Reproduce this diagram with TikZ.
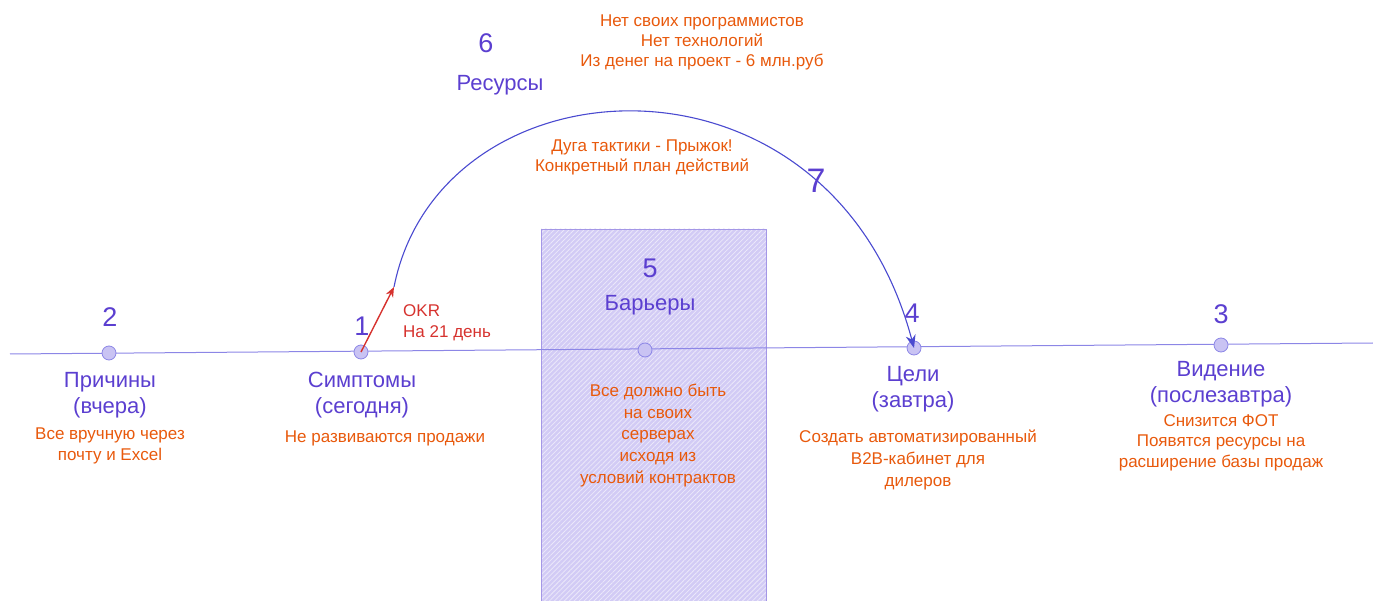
\documentclass[tikz,border=0pt]{standalone}
\usepackage{fontspec}
\setmainfont{Liberation Sans}
\usetikzlibrary{patterns.meta,arrows.meta}
\definecolor{vio}{HTML}{5B3FD0}
\definecolor{org}{HTML}{E8590C}
\definecolor{redd}{HTML}{D6322E}
\definecolor{linec}{HTML}{8C86E6}
\definecolor{arcc}{HTML}{4A4AD0}
\definecolor{dotfill}{HTML}{C9C3F3}
\definecolor{boxfill}{HTML}{D2CBF5}
\definecolor{hatch}{HTML}{A497E6}
\tikzset{
  dot/.style={circle, draw=linec, fill=dotfill, minimum size=14pt, inner sep=0pt, line width=0.8pt},
  ttl/.style={text=vio, font=\fontsize{22}{26}\selectfont, align=center, inner sep=0pt},
  num/.style={text=vio, font=\fontsize{27}{30}\selectfont, inner sep=0pt},
  note/.style={text=org, font=\fontsize{17}{21}\selectfont, align=center, inner sep=0pt},
}
\begin{document}
\begin{tikzpicture}[x=1pt,y=-1pt]
\useasboundingbox (0,0) rectangle (1373,601);
% barrier box
\node (bar) [draw=hatch, line width=0.8pt, preaction={fill=boxfill},
  pattern={Lines[angle=45,distance=3.5pt,line width=0.8pt]}, pattern color=white!55!boxfill,
  minimum width=225pt, minimum height=380pt, inner sep=0pt] at (653.5,419) {};
% main line
\coordinate (L) at (10,354);
\coordinate (R) at (1373,343);
\draw[linec, line width=1pt] (L) -- (R);
% dots
\node (c2) [dot] at (109,353) {};
\node (c1) [dot] at (361,352) {};
\node (c5) [dot] at (645,350) {};
\node (c4) [dot] at (914,348) {};
\node (c3) [dot] at (1221,345) {};
% arc
\coordinate (j) at (394,287);
\draw[arcc, line width=1.1pt, -{Stealth[length=13pt,width=10pt]}] (j) .. controls (440,55) and (830,32) .. (c4.center);
\draw[redd, line width=1.4pt, -{Stealth[length=10pt,width=8pt]}] (c1.center) -- (j);
% numbers
\node (n2) [num] at (110,317) {2};
\node (n1) [num] at (362,326) {1};
\node (n5) [num] at (650,268) {5};
\node (n4) [num] at (912,313) {4};
\node (n3) [num] at (1221,314) {3};
\node (n6) [num] at (486,43) {6};
\node (n7) [num, font=\fontsize{34}{38}\selectfont] at (816,181) {7};
% titles
\node (t2) [ttl] at (110,395) {Причины\\(вчера)};
\node (t1) [ttl] at (362,395) {Симптомы\\(сегодня)};
\node (t5) [ttl] at (650,305) {Барьеры};
\node (t4) [ttl] at (913,389) {Цели\\(завтра)};
\node (t3) [ttl] at (1221,384.5) {Видение\\(послезавтра)};
\node (t6) [ttl] at (500,85) {Ресурсы};
% notes
\node (r2) [note] at (110,446) {Все вручную через\\почту и Excel};
\node (r1) [note] at (385,438) {Не развиваются продажи};
\node (okr) [note, text=redd, align=left, anchor=west] at (403,322.5) {OKR\\На 21 день};
\node (r5) [note, font=\fontsize{17}{21.75}\selectfont] at (658,435.5) {Все должно быть\\на своих\\серверах\\исходя из\\условий контрактов};
\node (r4) [note, font=\fontsize{17}{22}\selectfont] at (918,460) {Создать автоматизированный\\B2B-кабинет для\\дилеров};
\node (r3) [note, font=\fontsize{17}{20.5}\selectfont] at (1221,442.5) {Снизится ФОТ\\Появятся ресурсы на\\расширение базы продаж};
\node (r6) [note, font=\fontsize{17}{20}\selectfont] at (702,42) {Нет своих программистов\\Нет технологий\\Из денег на проект - 6 млн.руб};
\node (r7) [note, font=\fontsize{17}{20}\selectfont] at (642,157) {Дуга тактики - Прыжок!\\Конкретный план действий};
\end{tikzpicture}
\end{document}
